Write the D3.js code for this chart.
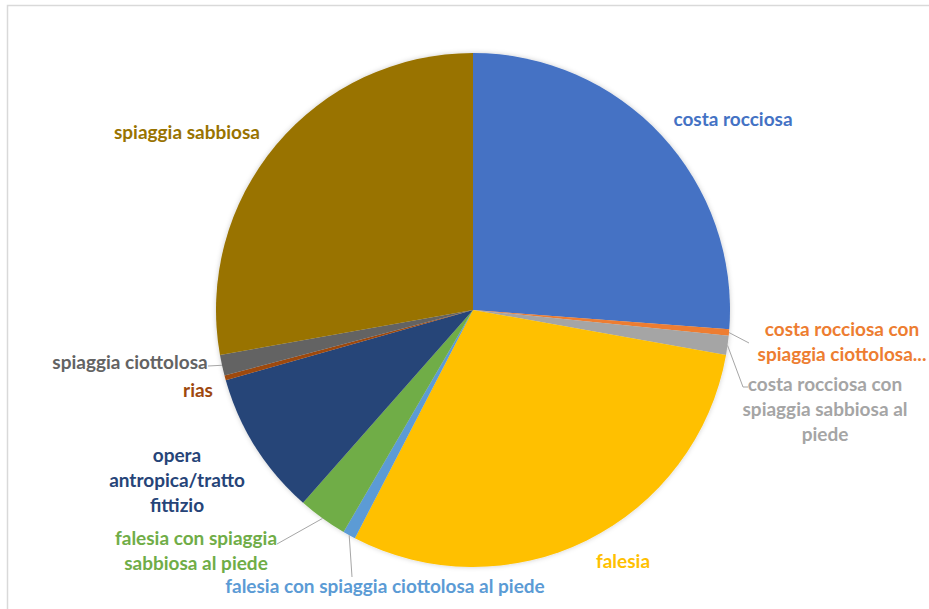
<!DOCTYPE html>
<html>
<head>
<meta charset="utf-8">
<script src="https://cdn.jsdelivr.net/npm/d3@7"></script>
<style>
  html, body { margin: 0; padding: 0; background: #ffffff; }
  svg { display: block; }
  text { font-family: Lato, "Open Sans", sans-serif; font-weight: bold; }
</style>
</head>
<body>
<svg id="chart" width="929" height="609"></svg>
<script>
// Coastline types and their share of the total length (%)
const categories = [
  "costa rocciosa",
  "costa rocciosa con spiaggia ciottolosa al piede",
  "costa rocciosa con spiaggia sabbiosa al piede",
  "falesia",
  "falesia con spiaggia ciottolosa al piede",
  "falesia con spiaggia sabbiosa al piede",
  "opera antropica/tratto fittizio",
  "rias",
  "spiaggia ciottolosa",
  "spiaggia sabbiosa"
];
const values = [26.2, 0.4, 1.2, 29.8, 0.8, 3.1, 9.1, 0.3, 1.3, 27.8];
const colors = [
  "#4472C4", "#ED7D31", "#A5A5A5", "#FFC000", "#5B9BD5",
  "#70AD47", "#264478", "#9E480E", "#636363", "#997300"
];
// Label lines as they are shown next to the pie
const labelLines = [
  ["costa rocciosa"],
  ["costa rocciosa con", "spiaggia ciottolosa..."],
  ["costa rocciosa con", "spiaggia sabbiosa al", "piede"],
  ["falesia"],
  ["falesia con spiaggia ciottolosa al piede"],
  ["falesia con spiaggia", "sabbiosa al piede"],
  ["opera", "antropica/tratto", "fittizio"],
  ["rias"],
  ["spiaggia ciottolosa"],
  ["spiaggia sabbiosa"]
];

// Layout: label centre (x, first-line centre y) and optional leader end point
const labelLayout = [
  { x: 733, y: 119 },
  { x: 842, y: 329, lead: [[749, 343]] },
  { x: 825, y: 384, lead: [[743, 387], [748, 387]] },
  { x: 623, y: 561 },
  { x: 385, y: 586, lead: [[352, 577]] },
  { x: 196, y: 538, lead: [[277, 544]] },
  { x: 177, y: 455 },
  { x: 198, y: 390 },
  { x: 130, y: 362, lead: [[208, 366]] },
  { x: 187, y: 132 }
];

const W = 929, H = 609;
const cx = 473, cy = 310, R = 257;
const lineH = 25;

const svg = d3.select("#chart");

// chart area frame
svg.append("path")
  .attr("d", `M7.5,${H} V5.5 H${W}`)
  .attr("fill", "none")
  .attr("stroke", "#D9D9D9")
  .attr("stroke-width", 1.5);

const defs = svg.append("defs");
const f = defs.append("filter").attr("id", "soft").attr("x", "-10%").attr("y", "-10%").attr("width", "120%").attr("height", "120%");
f.append("feDropShadow").attr("dx", 0).attr("dy", 0).attr("stdDeviation", 2.5)
  .attr("flood-color", "#000").attr("flood-opacity", 0.2);

const data = categories.map((c, i) => ({ name: c, value: values[i], i }));

const pie = d3.pie().value(d => d.value).sort(null).startAngle(0).endAngle(2 * Math.PI);
const arcs = pie(data);
const arc = d3.arc().innerRadius(0).outerRadius(R);

const g = svg.append("g").attr("transform", `translate(${cx},${cy})`);
g.append("g").attr("filter", "url(#soft)")
  .selectAll("path")
  .data(arcs)
  .join("path")
  .attr("d", arc)
  .attr("fill", d => colors[d.data.i]);

// leader lines from the slice edge to the label
const edge = d3.arc().innerRadius(R).outerRadius(R);
arcs.forEach(a => {
  const L = labelLayout[a.data.i];
  if (!L.lead) return;
  const [ex, ey] = edge.centroid(a);
  const pts = [[cx + ex, cy + ey]].concat(L.lead);
  svg.append("path")
    .attr("d", d3.line()(pts))
    .attr("fill", "none")
    .attr("stroke", "#A6A6A6")
    .attr("stroke-width", 1);
});

// labels
arcs.forEach(a => {
  const i = a.data.i;
  const L = labelLayout[i];
  const t = svg.append("text")
    .attr("text-anchor", "middle")
    .attr("font-size", 19)
    .attr("fill", colors[i]);
  labelLines[i].forEach((ln, k) => {
    t.append("tspan")
      .attr("x", L.x)
      .attr("y", L.y + k * lineH)
      .attr("dy", "0.35em")
      .text(ln);
  });
});
</script>
</body>
</html>
